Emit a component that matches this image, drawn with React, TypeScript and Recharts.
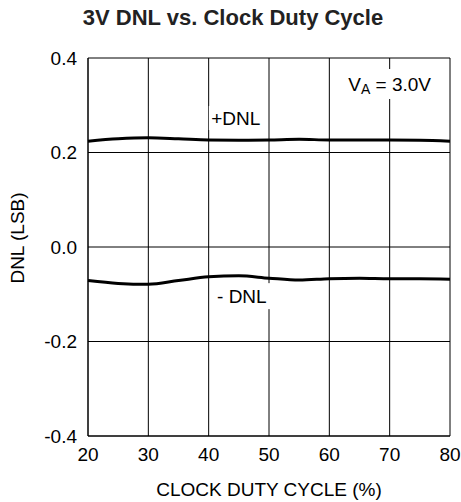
import { LineChart, Line, XAxis, YAxis, CartesianGrid, ReferenceDot, Label } from 'recharts';

const dutyCycle = [20, 25, 30, 35, 40, 45, 50, 55, 60, 65, 70, 75, 80];
const dnlPlus = [0.224, 0.229, 0.231, 0.229, 0.2265, 0.226, 0.2265, 0.228, 0.2265, 0.2265, 0.2265, 0.226, 0.224];
const dnlMinus = [-0.071, -0.077, -0.079, -0.071, -0.063, -0.061, -0.066, -0.07, -0.067, -0.066, -0.067, -0.067, -0.068];
const xTicks = [20, 30, 40, 50, 60, 70, 80];
const yTicks = [-0.4, -0.2, 0, 0.2, 0.4];

const chartData = dutyCycle.map((d, i) => ({ duty: d, plus: dnlPlus[i], minus: dnlMinus[i] }));

const FONT = '"Liberation Sans", Arial, Helvetica, sans-serif';

// text with a white box behind it (the grid lines are cut where the labels sit)
const BoxLabel = ({ viewBox, text, boxW, boxH, sub }: any) => {
    const cx = viewBox.x + viewBox.width / 2;
    const cy = viewBox.y + viewBox.height / 2;
    return (
        <g>
            <rect x={cx - boxW / 2} y={cy - boxH / 2} width={boxW} height={boxH} fill="#fff" />
            <text x={cx} y={cy} textAnchor="middle" dominantBaseline="central"
                fontFamily={FONT} fontSize={19} fill="#000">
                {sub ? (
                    <>
                        <tspan>V</tspan>
                        <tspan fontSize={14} dy={5}>A</tspan>
                        <tspan dy={-5}>{' = 3.0V'}</tspan>
                    </>
                ) : text}
            </text>
        </g>
    );
};

const YTitle = ({ viewBox }: any) => (
    <text x={17} y={viewBox.y + viewBox.height / 2 - 9} transform={`rotate(-90, 17, ${viewBox.y + viewBox.height / 2 - 9})`}
        textAnchor="middle" dominantBaseline="central" fontFamily={FONT} fontSize={19} fill="#000">
        DNL (LSB)
    </text>
);

const XTitle = ({ viewBox }: any) => (
    <text x={viewBox.x + viewBox.width / 2} y={496} textAnchor="middle"
        fontFamily={FONT} fontSize={19} fill="#000">
        CLOCK DUTY CYCLE (%)
    </text>
);

export default function App() {
    return (
        <div style={{ position: 'absolute', left: 0, top: 0, width: 461, height: 502, background: '#fff', fontFamily: FONT }}>
            <div style={{ position: 'absolute', left: 0, top: 6, width: 466, textAlign: 'center', fontSize: 22, fontWeight: 'bold', lineHeight: '24px', color: '#222' }}>
                3V DNL vs. Clock Duty Cycle
            </div>
            <LineChart width={461} height={502} data={chartData}
                margin={{ top: 58, right: 11, left: 28, bottom: 6 }}>
                <CartesianGrid stroke="#000" strokeOpacity={1} />
                <XAxis dataKey="duty" type="number" domain={[20, 80]} ticks={xTicks}
                    tickLine={false} tickMargin={6} axisLine={{ stroke: '#000' }} height={60}
                    tick={{ fill: '#000', fontSize: 19, fontFamily: FONT }}>
                    <Label content={<XTitle />} />
                </XAxis>
                <YAxis type="number" domain={[-0.4, 0.4]} ticks={yTicks} width={60}
                    tickFormatter={(v: number) => v.toFixed(1)}
                    tickLine={false} tickMargin={5} axisLine={{ stroke: '#000' }}
                    tick={{ fill: '#000', fontSize: 19, fontFamily: FONT }}>
                    <Label content={<YTitle />} />
                </YAxis>
                <Line type="monotone" dataKey="plus" stroke="#000" strokeWidth={3} dot={false} isAnimationActive={false} />
                <Line type="monotone" dataKey="minus" stroke="#000" strokeWidth={3} dot={false} isAnimationActive={false} />
                <ReferenceDot x={44.5} y={0.273} r={1} fill="none" stroke="none"
                    label={<BoxLabel text="+DNL" boxW={54} boxH={24} />} />
                <ReferenceDot x={45.5} y={-0.104} r={1} fill="none" stroke="none"
                    label={<BoxLabel text="- DNL" boxW={60} boxH={26} />} />
                <ReferenceDot x={70} y={0.345} r={1} fill="none" stroke="none"
                    label={<BoxLabel sub boxW={104} boxH={30} />} />
            </LineChart>
        </div>
    );
}
